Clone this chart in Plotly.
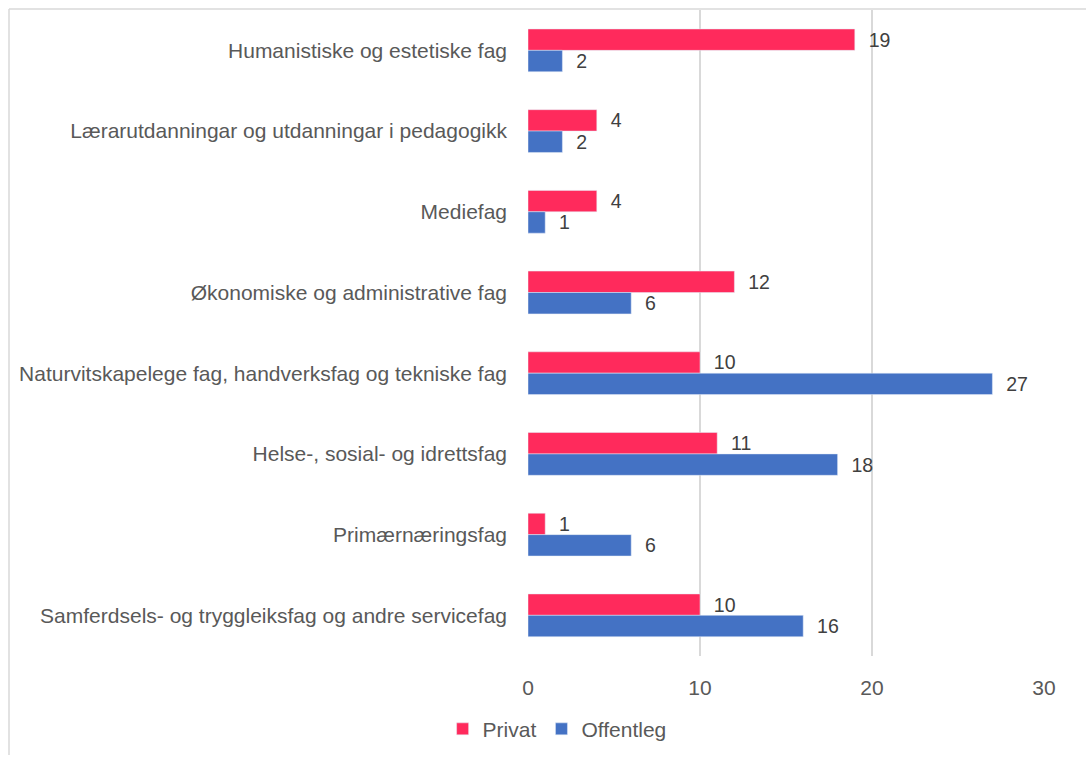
import plotly.graph_objects as go

categories = [
    "Humanistiske og estetiske fag",
    "Lærarutdanningar og utdanningar i pedagogikk",
    "Mediefag",
    "Økonomiske og administrative fag",
    "Naturvitskapelege fag, handverksfag og tekniske fag",
    "Helse-, sosial- og idrettsfag",
    "Primærnæringsfag",
    "Samferdsels- og tryggleiksfag og andre servicefag",
]
privat = [19, 4, 4, 12, 10, 11, 1, 10]
offentleg = [2, 2, 1, 6, 27, 18, 6, 16]
x_ticks = [0, 10, 20, 30]

FONT = "Liberation Sans, Arial, sans-serif"
FS = 21
NB = "\u00a0\u00a0"

fig = go.Figure()
fig.add_trace(go.Bar(
    y=categories, x=privat, name="Privat", orientation="h",
    marker=dict(color="#FF2A5C"),
    text=privat, texttemplate=NB + "%{x}", textposition="outside",
    textfont=dict(size=FS, color="#404040", family=FONT),
    cliponaxis=False,
))
fig.add_trace(go.Bar(
    y=categories, x=offentleg, name="Offentleg", orientation="h",
    marker=dict(color="#4472C4"),
    text=offentleg, texttemplate=NB + "%{x}", textposition="outside",
    textfont=dict(size=FS, color="#404040", family=FONT),
    cliponaxis=False,
))

fig.update_layout(
    width=1086, height=758,
    margin=dict(l=528, r=42, t=10, b=98),
    paper_bgcolor="white", plot_bgcolor="white",
    barmode="group", bargap=0.47, bargroupgap=0,
    font=dict(family=FONT, size=FS, color="#595959"),
    showlegend=True,
    legend=dict(orientation="h", xref="container", x=0.513, xanchor="center",
                yref="container", y=0.038, yanchor="middle",
                font=dict(size=FS, color="#595959"), itemwidth=30,
                tracegroupgap=0),
    xaxis=dict(range=[0, 30], tickvals=x_ticks, showgrid=True,
               gridcolor="#D9D9D9", gridwidth=1.5, zeroline=False,
               showline=False, ticks="", ticklabelstandoff=17,
               tickfont=dict(size=FS, color="#595959")),
    yaxis=dict(autorange="reversed", showgrid=False, showline=False,
               ticks="", ticklabelstandoff=20,
               tickfont=dict(size=FS, color="#595959")),
    shapes=[
        dict(type="line", xref="paper", yref="paper",
             x0=(9 - 528) / 516, x1=(1090 - 528) / 516,
             y0=(660 - 9) / 650, y1=(660 - 9) / 650,
             line=dict(color="#D9D9D9", width=1.5)),
        dict(type="line", xref="paper", yref="paper",
             x0=(9 - 528) / 516, x1=(9 - 528) / 516,
             y0=(660 - 9) / 650, y1=(660 - 760) / 650,
             line=dict(color="#D9D9D9", width=1.5)),
    ],
)

fig.write_html("out.html", config={"displayModeBar": False},
               post_script="document.body.style.margin='0';")
